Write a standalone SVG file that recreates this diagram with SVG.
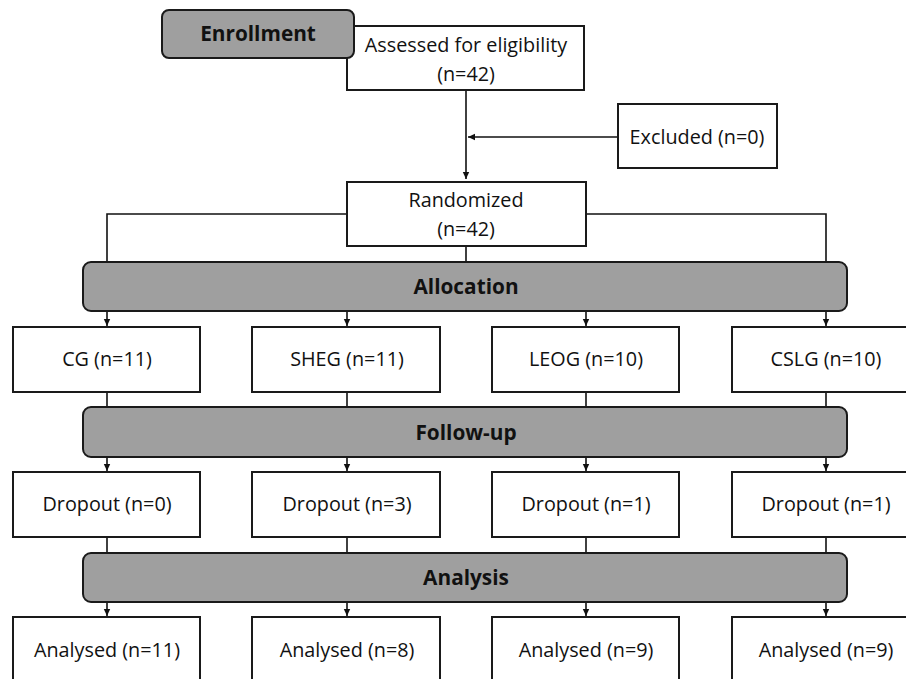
<svg xmlns="http://www.w3.org/2000/svg" width="906" height="679" viewBox="0 0 906 679">
<defs>
<marker id="arr" markerWidth="8" markerHeight="8" refX="7" refY="4" orient="auto" markerUnits="userSpaceOnUse">
<path d="M0,0.8 L7,4 L0,7.2 Z" fill="#111"/>
</marker>
<style>
.box{fill:#fff;stroke:#1a1a1a;stroke-width:2}
.bar{fill:#9f9f9f;stroke:#1a1a1a;stroke-width:2}
.t{font-family:"Open Sans","Noto Sans",sans-serif;font-size:19.8px;fill:#111;text-anchor:middle}
.h{font-family:"Open Sans","Noto Sans",sans-serif;font-size:20.8px;font-weight:bold;fill:#111;text-anchor:middle}
.ln{fill:none;stroke:#111;stroke-width:1.6}
</style>
</defs>
<rect width="906" height="679" fill="#fff"/>
<g id="connectors">
<path class="ln" d="M466,90 V179" marker-end="url(#arr)"/>
<path class="ln" d="M618,137 H468" marker-end="url(#arr)"/>
<path class="ln" d="M347,214 H107 V262"/>
<path class="ln" d="M586,214 H826 V262"/>
<path class="ln" d="M466,246 V262"/>
<path class="ln" d="M107,311 V326" marker-end="url(#arr)"/>
<path class="ln" d="M347,311 V326" marker-end="url(#arr)"/>
<path class="ln" d="M586,311 V326" marker-end="url(#arr)"/>
<path class="ln" d="M826,311 V326" marker-end="url(#arr)"/>
<path class="ln" d="M107,392 V407"/>
<path class="ln" d="M347,392 V407"/>
<path class="ln" d="M586,392 V407"/>
<path class="ln" d="M826,392 V407"/>
<path class="ln" d="M107,457 V471" marker-end="url(#arr)"/>
<path class="ln" d="M347,457 V471" marker-end="url(#arr)"/>
<path class="ln" d="M586,457 V471" marker-end="url(#arr)"/>
<path class="ln" d="M826,457 V471" marker-end="url(#arr)"/>
<path class="ln" d="M107,537 V553"/>
<path class="ln" d="M347,537 V553"/>
<path class="ln" d="M586,537 V553"/>
<path class="ln" d="M826,537 V553"/>
<path class="ln" d="M107,602 V616" marker-end="url(#arr)"/>
<path class="ln" d="M347,602 V616" marker-end="url(#arr)"/>
<path class="ln" d="M586,602 V616" marker-end="url(#arr)"/>
<path class="ln" d="M826,602 V616" marker-end="url(#arr)"/>
</g>
<g id="assessed"><rect class="box" x="347" y="26" width="237" height="64"/><text class="t" x="466" y="52">Assessed for eligibility</text><text class="t" x="466" y="81">(n=42)</text></g>
<g id="enrollment"><rect class="bar" x="162" y="10" width="192" height="48" rx="7"/><text class="h" x="258" y="41">Enrollment</text></g>
<g id="excluded"><rect class="box" x="618" y="104" width="159" height="64"/><text class="t" x="697" y="144">Excluded (n=0)</text></g>
<g id="randomized"><rect class="box" x="347" y="182" width="239" height="64"/><text class="t" x="466" y="207">Randomized</text><text class="t" x="466" y="236">(n=42)</text></g>
<g id="allocation"><rect class="bar" x="83" y="262" width="764" height="49" rx="8"/><text class="h" x="466" y="294">Allocation</text></g>
<g id="cg"><rect class="box" x="13" y="327" width="187" height="65"/><text class="t" x="107" y="366">CG (n=11)</text></g>
<g id="sheg"><rect class="box" x="252" y="327" width="188" height="65"/><text class="t" x="347" y="366">SHEG (n=11)</text></g>
<g id="leog"><rect class="box" x="492" y="327" width="187" height="65"/><text class="t" x="586" y="366">LEOG (n=10)</text></g>
<g id="cslg"><rect class="box" x="732" y="327" width="188" height="65"/><text class="t" x="826" y="366">CSLG (n=10)</text></g>
<g id="followup"><rect class="bar" x="83" y="407" width="764" height="50" rx="8"/><text class="h" x="466" y="440">Follow-up</text></g>
<g id="drop1"><rect class="box" x="13" y="472" width="187" height="65"/><text class="t" x="107" y="511">Dropout (n=0)</text></g>
<g id="drop2"><rect class="box" x="252" y="472" width="188" height="65"/><text class="t" x="347" y="511">Dropout (n=3)</text></g>
<g id="drop3"><rect class="box" x="492" y="472" width="187" height="65"/><text class="t" x="586" y="511">Dropout (n=1)</text></g>
<g id="drop4"><rect class="box" x="732" y="472" width="188" height="65"/><text class="t" x="826" y="511">Dropout (n=1)</text></g>
<g id="analysis"><rect class="bar" x="83" y="553" width="764" height="49" rx="8"/><text class="h" x="466" y="585">Analysis</text></g>
<g id="an1"><rect class="box" x="13" y="617" width="187" height="70"/><text class="t" x="107" y="657">Analysed (n=11)</text></g>
<g id="an2"><rect class="box" x="252" y="617" width="188" height="70"/><text class="t" x="347" y="657">Analysed (n=8)</text></g>
<g id="an3"><rect class="box" x="492" y="617" width="187" height="70"/><text class="t" x="586" y="657">Analysed (n=9)</text></g>
<g id="an4"><rect class="box" x="732" y="617" width="188" height="70"/><text class="t" x="826" y="657">Analysed (n=9)</text></g>
</svg>
